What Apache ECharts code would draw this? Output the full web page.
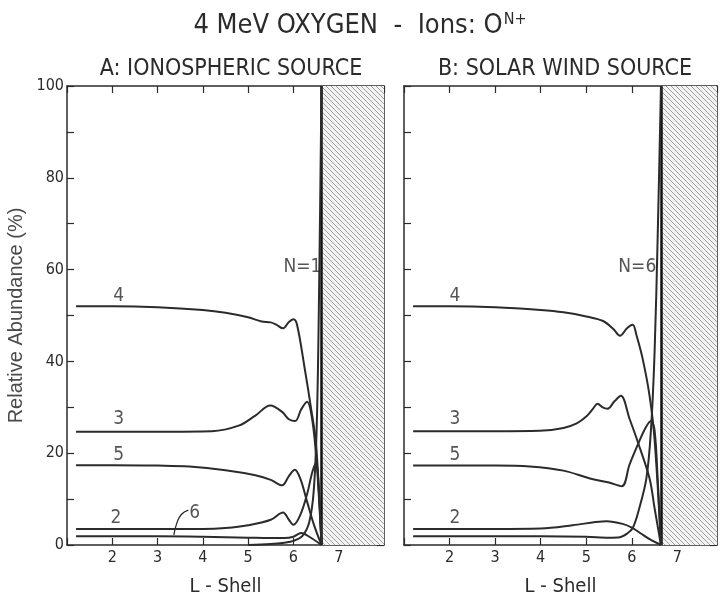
<!DOCTYPE html>
<html>
<head>
<meta charset="utf-8">
<script src="https://cdn.jsdelivr.net/npm/echarts@6/dist/echarts.min.js"></script>
<style>
  html, body { margin: 0; padding: 0; background: #fff; }
  #chart { width: 720px; height: 602px; }
</style>
</head>
<body>
<div id="chart"></div>
<script>
// L-shell tick labels
var lTicks = [2, 3, 4, 5, 6, 7]
// boundary of the source region (hatched)
var boundaryA = 6.62
var boundaryB = 6.64
// panel B is cut by the right edge of the picture
var maxA = 8
var maxB = 7.87

// A: ionospheric source, [L, %]
var a4 = [[1.2,52],[2,52],[3,51.8],[4,51.2],[4.5,50.6],[5,49.6],[5.3,48.7],[5.5,48.5],[5.62,48],[5.77,47.2],[5.9,48.6],[6.0,49.2],[6.08,48],[6.25,38.4],[6.39,29.7],[6.5,22],[6.62,0]]
var a3 = [[1.2,24.7],[2,24.7],[3,24.7],[4.2,24.8],[4.79,26],[5.16,28.2],[5.49,30.4],[5.75,29],[5.9,27.4],[6.04,27],[6.17,29.5],[6.3,31.2],[6.42,27],[6.52,17],[6.62,0]]
var a5 = [[1.2,17.4],[2,17.4],[3,17.3],[3.7,17.1],[4.5,16.3],[5.16,15.2],[5.5,14.2],[5.75,13],[5.9,15],[6.03,16.4],[6.15,14.5],[6.3,9.5],[6.45,4.5],[6.62,0]]
var a2 = [[1.2,3.5],[2,3.5],[3,3.5],[4,3.5],[4.5,3.7],[5,4.3],[5.5,5.5],[5.77,7.1],[5.9,5.5],[6.0,4.4],[6.15,6.5],[6.3,11],[6.42,16],[6.5,17.8],[6.56,12],[6.62,0]]
var a6 = [[1.2,1.9],[2,1.9],[3,1.9],[4,1.8],[5,1.6],[5.8,1.5],[6.0,1.8],[6.17,2.6],[6.35,1.8],[6.62,0]]
var a1 = [[5,0],[5.5,0.2],[5.8,0.5],[6.0,0.9],[6.2,2],[6.35,5],[6.45,12],[6.52,28],[6.57,58],[6.62,100]]

// B: solar wind source, [L, %]
var b4 = [[1.2,52],[2,52],[3,51.8],[4,51.2],[4.5,50.7],[5,49.8],[5.37,48.8],[5.6,47],[5.74,45.6],[5.9,47.3],[6.02,48],[6.1,45.8],[6.24,40.5],[6.39,32.5],[6.5,23],[6.64,0]]
var b3 = [[1.2,24.8],[2,24.8],[3,24.8],[3.98,24.9],[4.5,25.5],[4.79,26.5],[5.0,28],[5.15,29.7],[5.25,30.8],[5.36,30],[5.47,29.7],[5.62,31.3],[5.76,32.5],[5.95,27.5],[6.13,22.5],[6.39,14.5],[6.5,8],[6.64,0]]
var b5 = [[1.2,17.3],[2,17.3],[3,17.3],[3.76,17.1],[4.5,16.2],[5.08,14.5],[5.5,13.6],[5.78,12.8],[5.95,17.5],[6.16,22.5],[6.3,25.5],[6.42,27],[6.5,25],[6.57,14],[6.64,0]]
var b2 = [[1.2,3.5],[2,3.5],[3,3.5],[4,3.6],[4.7,4.3],[5.2,5],[5.45,5.2],[5.8,4.6],[6.02,3.7],[6.2,2.5],[6.4,1.2],[6.64,0]]
var b6 = [[1.2,1.9],[2,1.9],[3,1.9],[4,1.9],[5,1.8],[5.5,1.6],[5.74,1.7],[5.9,2.5],[6.02,3.7],[6.15,7.5],[6.32,14.5],[6.42,25],[6.5,42],[6.57,68],[6.64,100]]

// curve labels [text, L, %]
var labelsA = [['4',2.14,54.2],['3',2.14,27.4],['5',2.14,19.6],['2',2.08,5.8],['6',3.82,7],['N=1',6.2,60.6]]
var labelsB = [['4',2.12,54.2],['3',2.12,27.4],['5',2.12,19.6],['2',2.12,5.8],['N=6',6.12,60.6]]
var leader6 = [[3.68,7.6],[3.52,6.6],[3.42,4.6],[3.36,2.2]]

var font = "'Liberation Sans Narrow', 'DejaVu Sans Condensed', 'Liberation Sans', sans-serif"
var ink = '#2b2b2b'

function hatch() {
  var c = document.createElement('canvas')
  c.width = 5
  c.height = 5
  var g = c.getContext('2d')
  g.fillStyle = '#f2f2f2'
  g.fillRect(0, 0, 5, 5)
  g.strokeStyle = '#a0a0a0'
  g.lineWidth = 1
  g.beginPath()
  g.moveTo(-1, -1); g.lineTo(6, 6)
  g.moveTo(-1, 4); g.lineTo(1, 6)
  g.moveTo(4, -1); g.lineTo(6, 1)
  g.stroke()
  return c
}
var pattern = { image: hatch(), repeat: 'repeat' }

// p = panel (0 = A, 1 = B); each panel has two x axes and two y axes
function curve(data, p, extra) {
  var s = {
    type: 'line',
    data: data,
    xAxisIndex: p * 2,
    yAxisIndex: p * 2,
    smooth: 0.35,
    symbol: 'none',
    silent: true,
    lineStyle: { color: ink, width: 2 },
    z: 5
  }
  if (extra) Object.assign(s, extra)
  return s
}

function labelSeries(list, p) {
  return {
    type: 'scatter',
    xAxisIndex: p * 2,
    yAxisIndex: p * 2,
    symbolSize: 0,
    silent: true,
    data: list.map(function (d) { return { name: d[0], value: [d[1], d[2]] } }),
    label: {
      show: true,
      position: 'inside',
      formatter: '{b}',
      color: ink,
      fontFamily: font,
      fontSize: 19
    },
    z: 6
  }
}

function region(p, b, max) {
  return {
    type: 'line',
    xAxisIndex: p * 2,
    yAxisIndex: p * 2,
    data: [],
    silent: true,
    markArea: {
      silent: true,
      itemStyle: { color: pattern },
      data: [[{ coord: [b, 0] }, { coord: [max, 100] }]]
    },
    markLine: {
      silent: true,
      symbol: 'none',
      label: { show: false },
      lineStyle: { color: '#111', width: 2.5, type: 'solid' },
      data: [[{ coord: [b, 0] }, { coord: [b, 100] }]]
    },
    z: 2
  }
}

function xAxes(p, max) {
  var base = {
    type: 'value',
    gridIndex: p,
    min: 1,
    max: max,
    interval: 1,
    splitLine: { show: false },
    axisLine: { onZero: false, lineStyle: { color: ink, width: 1.5 } },
    axisTick: { inside: true, length: 7, lineStyle: { color: ink, width: 1.2 } }
  }
  var bottom = Object.assign({}, base, {
    position: 'bottom',
    name: 'L - Shell',
    nameLocation: 'middle',
    nameGap: 32,
    nameTextStyle: { fontFamily: font, fontSize: 20, color: ink },
    axisLabel: {
      margin: 5,
      fontFamily: font,
      fontSize: 16,
      color: ink,
      showMaxLabel: false,
      formatter: function (v) { return lTicks.indexOf(v) >= 0 ? String(v) : '' }
    }
  })
  var top = Object.assign({}, base, { position: 'top', axisLabel: { show: false } })
  return [bottom, top]
}

function yAxes(p) {
  var base = {
    type: 'value',
    gridIndex: p,
    min: 0,
    max: 100,
    interval: 10,
    splitLine: { show: false },
    axisLine: { show: true, onZero: false, lineStyle: { color: ink, width: 1.5 } },
    axisTick: { inside: true, length: 7, lineStyle: { color: ink, width: 1.2 } }
  }
  var left = Object.assign({}, base, {
    position: 'left',
    axisLabel: {
      show: p === 0,
      margin: 3,
      fontFamily: font,
      fontSize: 16,
      color: ink,
      formatter: function (v) { return v % 20 === 0 ? String(v) : '' }
    }
  })
  if (p === 0) {
    left.name = 'Relative Abundance (%)'
    left.nameLocation = 'middle'
    left.nameGap = 41
    left.nameTextStyle = { fontFamily: "'Liberation Sans', sans-serif", fontSize: 20, color: '#4a4a4a' }
  }
  var right = Object.assign({}, base, { position: 'right', axisLabel: { show: false } })
  return [left, right]
}

var chart = echarts.init(document.getElementById('chart'), null, { renderer: 'canvas' })

chart.setOption({
  animation: false,
  backgroundColor: '#fff',
  title: [
    {
      text: '{m|4 MeV OXYGEN  -  Ions: O}{s|N+}',
      left: 'center',
      top: 7,
      textStyle: {
        fontWeight: 'normal',
        rich: {
          m: { fontFamily: font, fontSize: 27, fontWeight: 'normal', color: ink },
          s: { fontFamily: font, fontSize: 16, fontWeight: 'normal', color: ink, verticalAlign: 'top', padding: [0, 0, 12, 1] }
        }
      }
    },
    { text: 'A: IONOSPHERIC SOURCE', left: 226, top: 53, textAlign: 'center', textStyle: { fontFamily: font, fontSize: 23, fontWeight: 'normal', color: ink } },
    { text: 'B: SOLAR WIND SOURCE', left: 560, top: 53, textAlign: 'center', textStyle: { fontFamily: font, fontSize: 23, fontWeight: 'normal', color: ink } }
  ],
  grid: [
    { left: 67, top: 86, width: 317, height: 461 },
    { left: 404, top: 86, width: 313, height: 461 }
  ],
  xAxis: xAxes(0, maxA).concat(xAxes(1, maxB)),
  yAxis: yAxes(0).concat(yAxes(1)),
  series: [
    region(0, boundaryA, maxA),
    curve(a4, 0), curve(a3, 0), curve(a5, 0), curve(a2, 0), curve(a6, 0), curve(a1, 0),
    curve(leader6, 0, { lineStyle: { color: ink, width: 1.3 }, smooth: 0.5 }),
    labelSeries(labelsA, 0),
    region(1, boundaryB, maxB),
    curve(b4, 1), curve(b3, 1), curve(b5, 1), curve(b2, 1), curve(b6, 1),
    labelSeries(labelsB, 1)
  ]
})
</script>
</body>
</html>
